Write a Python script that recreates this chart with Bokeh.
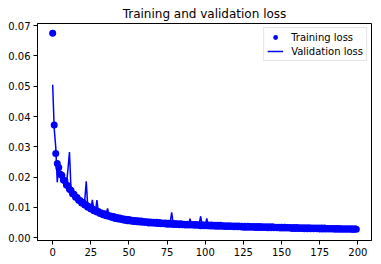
from bokeh.plotting import figure
from bokeh.models import Range1d, FixedTicker, NumeralTickFormatter, Legend, LegendItem
from bokeh.embed import file_html
from bokeh.resources import INLINE

epochs = list(range(200))

training_loss = [
    0.0675, 0.0372, 0.0278, 0.0245, 0.0232, 0.0210, 0.0206, 0.0191, 0.0188, 0.0174,
    0.0172, 0.0160, 0.0157, 0.0145, 0.0144, 0.0134, 0.0133, 0.0124, 0.0123, 0.0115,
    0.0116, 0.0108, 0.0108, 0.0101, 0.0102, 0.0095, 0.0096, 0.0089, 0.0091, 0.0085,
    0.0087, 0.0080, 0.0082, 0.0076, 0.0079, 0.0073, 0.0075, 0.0070, 0.0072, 0.0067,
    0.0070, 0.0064, 0.0067, 0.0062, 0.0065, 0.0060, 0.0063, 0.0058, 0.0061, 0.0056,
    0.0060, 0.0055, 0.0058, 0.0054, 0.0057, 0.0053, 0.0056, 0.0052, 0.0055, 0.0051,
    0.0054, 0.0050, 0.0053, 0.0049, 0.0052, 0.0049, 0.0051, 0.0048, 0.0051, 0.0047,
    0.0050, 0.0046, 0.0049, 0.0046, 0.0049, 0.0045, 0.0048, 0.0045, 0.0047, 0.0044,
    0.0047, 0.0044, 0.0046, 0.0043, 0.0046, 0.0043, 0.0045, 0.0042, 0.0045, 0.0042,
    0.0044, 0.0042, 0.0044, 0.0041, 0.0044, 0.0041, 0.0043, 0.0040, 0.0043, 0.0040,
    0.0042, 0.0040, 0.0042, 0.0039, 0.0042, 0.0039, 0.0041, 0.0038, 0.0041, 0.0038,
    0.0041, 0.0038, 0.0040, 0.0037, 0.0040, 0.0037, 0.0040, 0.0037, 0.0039, 0.0036,
    0.0039, 0.0036, 0.0039, 0.0036, 0.0038, 0.0035, 0.0038, 0.0035, 0.0038, 0.0035,
    0.0037, 0.0035, 0.0037, 0.0034, 0.0037, 0.0034, 0.0037, 0.0034, 0.0036, 0.0034,
    0.0036, 0.0033, 0.0036, 0.0033, 0.0036, 0.0033, 0.0035, 0.0033, 0.0035, 0.0032,
    0.0035, 0.0032, 0.0035, 0.0032, 0.0034, 0.0032, 0.0034, 0.0031, 0.0034, 0.0031,
    0.0034, 0.0031, 0.0033, 0.0031, 0.0033, 0.0030, 0.0033, 0.0030, 0.0033, 0.0030,
    0.0032, 0.0030, 0.0032, 0.0030, 0.0032, 0.0029, 0.0032, 0.0029, 0.0032, 0.0029,
    0.0031, 0.0029, 0.0031, 0.0029, 0.0031, 0.0028, 0.0031, 0.0028, 0.0031, 0.0028,
    0.0030, 0.0028, 0.0030, 0.0028, 0.0030, 0.0028, 0.0030, 0.0027, 0.0030, 0.0028,
]

validation_loss = [
    0.0505, 0.0360, 0.0300, 0.0183, 0.0240, 0.0210, 0.0192, 0.0208, 0.0176, 0.0175,
    0.0225, 0.0283, 0.0162, 0.0152, 0.0143, 0.0139, 0.0130, 0.0125, 0.0121, 0.0118,
    0.0109, 0.0122, 0.0186, 0.0101, 0.0102, 0.0094, 0.0125, 0.0092, 0.0086, 0.0124,
    0.0082, 0.0085, 0.0078, 0.0081, 0.0075, 0.0079, 0.0097, 0.0070, 0.0074, 0.0067,
    0.0072, 0.0064, 0.0069, 0.0070, 0.0061, 0.0066, 0.0059, 0.0065, 0.0057, 0.0062,
    0.0056, 0.0061, 0.0054, 0.0060, 0.0053, 0.0059, 0.0052, 0.0058, 0.0051, 0.0057,
    0.0050, 0.0056, 0.0050, 0.0055, 0.0049, 0.0054, 0.0048, 0.0054, 0.0048, 0.0053,
    0.0047, 0.0052, 0.0046, 0.0052, 0.0046, 0.0051, 0.0045, 0.0050, 0.0084, 0.0045,
    0.0050, 0.0044, 0.0049, 0.0044, 0.0048, 0.0043, 0.0048, 0.0043, 0.0047, 0.0042,
    0.0063, 0.0042, 0.0047, 0.0041, 0.0046, 0.0041, 0.0046, 0.0071, 0.0040, 0.0045,
    0.0040, 0.0064, 0.0039, 0.0044, 0.0039, 0.0044, 0.0038, 0.0044, 0.0038, 0.0043,
    0.0038, 0.0043, 0.0037, 0.0042, 0.0037, 0.0042, 0.0036, 0.0042, 0.0036, 0.0041,
    0.0036, 0.0041, 0.0035, 0.0041, 0.0035, 0.0040, 0.0035, 0.0040, 0.0034, 0.0040,
    0.0034, 0.0039, 0.0034, 0.0039, 0.0033, 0.0039, 0.0033, 0.0038, 0.0033, 0.0038,
    0.0032, 0.0038, 0.0032, 0.0037, 0.0032, 0.0037, 0.0032, 0.0037, 0.0031, 0.0036,
    0.0031, 0.0036, 0.0031, 0.0036, 0.0031, 0.0036, 0.0030, 0.0035, 0.0030, 0.0035,
    0.0030, 0.0035, 0.0030, 0.0035, 0.0029, 0.0034, 0.0029, 0.0034, 0.0029, 0.0034,
    0.0029, 0.0034, 0.0029, 0.0033, 0.0028, 0.0033, 0.0028, 0.0033, 0.0028, 0.0033,
    0.0028, 0.0033, 0.0028, 0.0032, 0.0027, 0.0032, 0.0027, 0.0032, 0.0027, 0.0032,
    0.0027, 0.0032, 0.0027, 0.0031, 0.0027, 0.0031, 0.0026, 0.0031, 0.0026, 0.0030,
]

x_ticks = [0, 25, 50, 75, 100, 125, 150, 175, 200]
y_ticks = [0.00, 0.01, 0.02, 0.03, 0.04, 0.05, 0.06, 0.07]

FONT = "DejaVu Sans"

p = figure(width=381, height=264, output_backend="svg", toolbar_location=None,
           x_range=Range1d(-9.95, 208.95), y_range=Range1d(-0.0009, 0.0707),
           min_border_left=37, min_border_right=10, min_border_top=23, min_border_bottom=24,
           title="Training and validation loss")
p.title.align = "center"
p.title.text_font = FONT
p.title.text_font_size = "12px"
p.title.text_font_style = "normal"
p.title.text_color = "black"
p.title.standoff = 6

p.xgrid.visible = False
p.ygrid.visible = False
p.background_fill_color = "white"
p.border_fill_color = "white"
p.outline_line_color = "black"
p.outline_line_alpha = 1
p.outline_line_width = 1

for ax in (p.xaxis[0], p.yaxis[0]):
    ax.axis_line_color = "black"
    ax.axis_line_width = 1
    ax.major_tick_in = 0
    ax.major_tick_out = 4
    ax.minor_tick_line_color = None
    ax.major_label_text_font = FONT
    ax.major_label_text_font_size = "10px"
    ax.major_label_text_color = "black"
    ax.major_label_standoff = 3

p.xaxis.ticker = FixedTicker(ticks=x_ticks)
p.yaxis.ticker = FixedTicker(ticks=y_ticks)
p.yaxis.formatter = NumeralTickFormatter(format="0.00")

r_train = p.scatter(epochs, training_loss, size=7, color="blue", line_color=None)
r_val = p.line(epochs, validation_loss, line_width=1.5, color="blue")

legend = Legend(items=[LegendItem(label="Training loss", renderers=[r_train]),
                       LegendItem(label="Validation loss", renderers=[r_val])],
                location="top_right")
legend.label_text_font = FONT
legend.label_text_font_size = "10px"
legend.label_text_color = "black"
legend.border_line_color = "#cccccc"
legend.border_line_width = 1
legend.background_fill_alpha = 0.8
legend.glyph_width = 16
legend.glyph_height = 12
legend.label_height = 12
legend.label_width = 10
legend.spacing = 2
legend.padding = 3
legend.margin = 4
legend.label_standoff = 8
p.add_layout(legend)

open("out.html", "w").write(file_html(p, INLINE))
